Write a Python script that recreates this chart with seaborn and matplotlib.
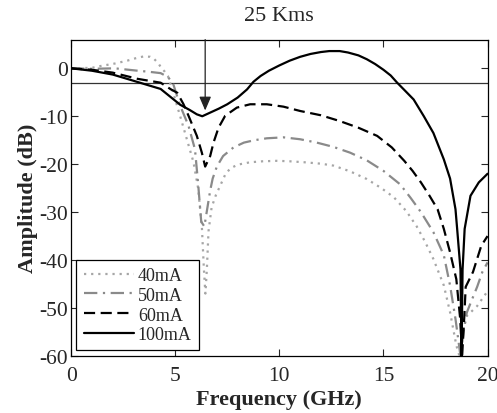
import matplotlib
matplotlib.use('Agg')
import matplotlib.pyplot as plt
import seaborn as sns
import pandas as pd
import numpy as np

# Frequency (GHz) and amplitude (dB), one pair per bias current
freq_40 = [0, 1, 1.44, 2.1, 2.7, 3.1, 3.5, 3.8, 4.0, 4.2, 4.33, 4.5, 4.65, 4.9, 5.24, 5.56, 5.88, 6.1,
           6.28, 6.38, 6.45, 6.52, 6.6, 6.75, 6.95, 7.16, 7.4, 7.64, 8.0, 8.6, 9.2, 9.9, 10.5, 11.2,
           12.0, 12.6, 13.4, 14.2, 14.9, 15.5, 16.1, 16.6, 17.0, 17.4, 17.9, 18.2, 18.5, 18.65, 18.8,
           19.0, 19.5, 20]
amp_40 = [0, 0.1, 0.5, 1.0, 1.6, 2.1, 2.5, 2.4, 1.9, 1.0, 0.1, -0.7, -1.6, -5, -10, -14.8, -19.6, -25,
          -33, -42, -47, -42, -34, -29, -26.5, -24.5, -22.2, -20.9, -20.1, -19.6, -19.4, -19.3, -19.4, -19.6,
          -19.9, -20.3, -21.5, -23.1, -25.0, -26.9, -29.8, -33, -36.2, -39.8, -45.3, -50.9, -57.8, -60, -55,
          -51.7, -49.6, -46.5]

freq_50 = [0, 1, 2.1, 3.2, 3.7, 4.3, 4.65, 4.9, 5.24, 5.64, 5.95, 6.1, 6.25, 6.4, 6.55, 6.68,
           6.8, 7.0, 7.3, 7.8, 8.3, 8.8, 9.4, 10.2, 11.0, 11.8, 12.6, 13.4, 14.2, 15.0, 15.8, 16.3,
           16.8, 17.4, 17.9, 18.2, 18.46, 18.7, 18.85, 19.0, 19.2, 19.5, 19.75, 20]
amp_50 = [0, -0.1, 0.0, -0.5, -0.7, -1.0, -1.8, -3.2, -7.8, -12, -16.9, -24, -32, -33, -29, -25.5,
          -23, -20.5, -18.3, -16.5, -15.5, -15.0, -14.6, -14.4, -14.8, -15.5, -16.4, -17.6, -19.2, -21.4,
          -24.2, -27.0, -30, -34.2, -39, -45.3, -52.3, -60, -55, -51, -48.8, -45.6, -42.5, -40.5]

freq_60 = [0, 1, 2, 3.2, 4.3, 4.8, 5.1, 5.4, 5.64, 6.04, 6.28, 6.44, 6.68, 6.84, 7.08, 7.4,
           7.96, 8.6, 9.4, 10.2, 11.0, 12.0, 12.9, 13.8, 14.7, 15.4, 16.0, 16.4, 16.8, 17.2, 17.6, 17.9,
           18.2, 18.5, 18.68, 18.78, 18.88, 18.95, 19.3, 19.7, 20]
amp_60 = [0, -0.3, -0.9, -2.2, -3.0, -4.4, -5.1, -7.5, -9.9, -14.1, -17.6, -20.5, -18.3, -15.5, -12.4,
          -9.9, -8.2, -7.5, -7.5, -8.0, -8.9, -9.8, -11.0, -12.4, -14.1, -16.5, -19.3, -21.4, -23.8, -26.5,
          -29.4, -33.5, -38.4, -44, -52, -60, -52, -45.6, -42.5, -37, -35]

freq_100 = [0, 1, 2, 3.0, 4.3, 5.24, 5.7, 6.04, 6.3, 6.7, 7.1, 7.5, 8.0, 8.45, 8.76, 9.1, 9.5, 10.0,
            10.5, 11.0, 11.5, 12.0, 12.4, 12.9, 13.3, 13.8, 14.2, 14.6, 15.0, 15.35, 15.66, 16.0, 16.45,
            16.94, 17.4, 17.9, 18.2, 18.46, 18.54, 18.7, 18.75, 18.8, 18.9, 19.18, 19.58, 20]
amp_100 = [0, -0.5, -1.3, -2.6, -4.3, -7.6, -8.7, -9.6, -10.0, -9.2, -8.4, -7.5, -6.1, -4.4, -2.8, -1.6,
           -0.5, 0.6, 1.6, 2.4, 3.0, 3.4, 3.6, 3.6, 3.3, 2.7, 1.9, 0.9, -0.3, -1.5, -3.0, -4.5, -6.5,
           -10.0, -13.5, -19, -23, -29.4, -33.5, -42, -60, -42, -33.5, -26.6, -23.8, -22]

labels = ['40mA', '50mA', '60mA', '100mA']
freqs = [freq_40, freq_50, freq_60, freq_100]
amps = [amp_40, amp_50, amp_60, amp_100]
colors = ['#a6a6a6', '#8a8a8a', 'black', 'black']
dashes = [(1, 2.2), (6, 2.5, 1, 2.5), (5, 2.5), (None, None)]

sns.set_theme(style='ticks')
plt.rcParams['font.family'] = ['Liberation Serif', 'DejaVu Serif']
plt.rcParams['axes.unicode_minus'] = False
plt.rcParams['xtick.direction'] = 'in'
plt.rcParams['ytick.direction'] = 'in'

fig = plt.figure(figsize=(4.97, 4.14), dpi=100)
ax = fig.add_axes([0.143, 0.138, 0.838, 0.764])

for lab, f, a, c, d in zip(labels, freqs, amps, colors, dashes):
    df = pd.DataFrame({'freq': f, 'amp': a})
    sns.lineplot(data=df, x='freq', y='amp', ax=ax, color=c, lw=1.6,
                 estimator=None, sort=False, label=lab)
    if d[0] is not None:
        ax.lines[-1].set_dashes(d)

# -3 dB reference and marker arrow
ax.axhline(-3, color='#333333', lw=0.9, zorder=1)
ax.annotate('', xy=(6.44, -8.8), xytext=(6.44, 6),
            arrowprops=dict(arrowstyle='-|>,head_length=0.7,head_width=0.3',
                            color='#222222', lw=0.9, shrinkA=0, shrinkB=0))

ax.set_xlim(0, 20)
ax.set_ylim(-60, 6)
ax.set_xticks([0, 5, 10, 15, 20])
ax.set_yticks([0, -10, -20, -30, -40, -50, -60])
ax.tick_params(top=True, right=True, labelsize=15.5, length=5, width=0.8)
ax.tick_params(axis='x', pad=7)
ax.tick_params(axis='y', pad=2)
for s in ax.spines.values():
    s.set_linewidth(0.9)
    s.set_color('black')

ax.set_xlabel('Frequency (GHz)', fontsize=16, fontweight='bold', labelpad=3)
ax.set_ylabel('Amplitude (dB)', fontsize=16, fontweight='bold', labelpad=1)
ax.set_title('25 Kms', fontsize=16, pad=14)

leg = ax.legend(loc='lower left', fontsize=13, handlelength=2.8, frameon=True,
                fancybox=False, edgecolor='black', framealpha=1,
                borderaxespad=0.3, handletextpad=0.2, labelspacing=0.15, borderpad=0.4)
leg.get_frame().set_linewidth(0.9)

plt.savefig('out.png', dpi=100)
